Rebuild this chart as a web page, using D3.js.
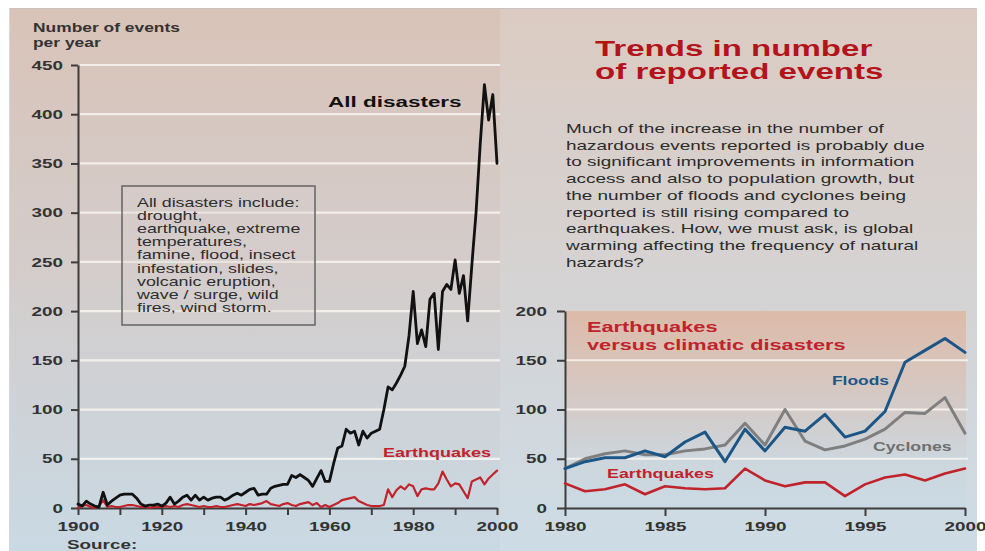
<!DOCTYPE html>
<html>
<head>
<meta charset="utf-8">
<script src="https://cdn.jsdelivr.net/npm/d3@7"></script>
<style>
  html, body { margin: 0; padding: 0; background: #ffffff; }
  svg { display: block; }
  text { font-family: "Liberation Sans", Arial, Helvetica, sans-serif; }
</style>
</head>
<body>
<svg id="chart" width="985" height="551"></svg>
<script>
// ---------------- DATA ----------------
const longStartYear = 1900;
const allDisasters = [
  4, 2, 7, 4, 2, 1, 16, 3, 7, 10,          // 1900-1909
  13, 14, 14, 14, 10, 4, 2, 3, 3, 4,       // 1910-1919
  2, 5, 11, 4, 7, 11, 13, 8, 13, 8,        // 1920-1929
  11, 8, 10, 11, 11, 8, 10, 13, 15, 13,    // 1930-1939
  16, 19, 20, 13, 14, 14, 20, 22, 23, 24,  // 1940-1949
  24, 33, 31, 34, 31, 28, 22, 30, 38, 27,  // 1950-1959
  27, 45, 61, 63, 80, 76, 78, 64, 78, 71,  // 1960-1969
  76, 78, 80, 100, 123, 120, 127, 135, 144, 175, // 1970-1979
  220, 167, 181, 164, 212, 218, 161, 220, 227, 222, // 1980-1989
  252, 218, 236, 190, 247, 300, 370, 430, 394, 420, // 1990-1999
  350                                       // 2000
];
const quakesLong = [
  0, 2, 3, 1, 0, 2, 8, 1, 2, 1,
  1, 2, 3, 3, 2, 1, 1, 0, 1, 1,
  1, 2, 1, 2, 1, 3, 4, 3, 2, 1,
  2, 1, 1, 2, 1, 1, 2, 3, 4, 3,
  2, 4, 3, 4, 5, 7, 4, 3, 2, 4,
  5, 3, 2, 4, 5, 6, 3, 5, 1, 3,
  1, 3, 5, 8, 9, 10, 11, 7, 5, 3,
  2, 2, 2, 3, 19, 11, 18, 22, 19, 24,
  22, 12, 19, 20, 19, 19, 25, 37, 29, 22,
  25, 24, 17, 10, 27, 29, 31, 24, 30, 34,
  38
];
const shortStartYear = 1980;
const floods    = [40, 47, 51, 51, 58, 52, 67, 77, 47, 80, 58, 82, 78, 95, 72, 78, 98, 148, 160, 172, 158];
const cyclones  = [40, 50, 55, 58, 54, 54, 58, 60, 64, 86, 64, 100, 68, 59, 63, 70, 80, 97, 96, 112, 76];
const quakesShort = [25, 17, 19, 24, 14, 22, 20, 19, 20, 40, 28, 22, 26, 26, 12, 24, 31, 34, 28, 35, 40];

const leftYTicks  = [0, 50, 100, 150, 200, 250, 300, 350, 400, 450];
const leftXTicks  = [1900, 1910, 1920, 1930, 1940, 1950, 1960, 1970, 1980, 1990, 2000];
const leftXLabels = [1900, 1920, 1940, 1960, 1980, 2000];
const rightYTicks = [0, 50, 100, 150, 200];
const rightXTicks = [1980, 1985, 1990, 1995, 2000];

const boxLines = [
  "All disasters include:", "drought,", "earthquake, extreme", "temperatures,",
  "famine, flood, insect", "infestation, slides,", "volcanic eruption,",
  "wave / surge, wild", "fires, wind storm."
];
const titleLines = ["Trends in number", "of reported events"];
const paraLines = [
  "Much of the increase in the number of",
  "hazardous events reported is probably due",
  "to significant improvements in information",
  "access and also to population growth, but",
  "the number of floods and cyclones being",
  "reported is still rising compared to",
  "earthquakes. How, we must ask, is global",
  "warming affecting the frequency of natural",
  "hazards?"
];

// ---------------- DRAWING ----------------
const SX = 1.45;
const svg = d3.select("#chart");
const defs = svg.append("defs");

function grad(id, stops) {
  const g = defs.append("linearGradient").attr("id", id)
    .attr("x1", 0).attr("y1", 0).attr("x2", 0).attr("y2", 1);
  stops.forEach(s => g.append("stop").attr("offset", s[0]).attr("stop-color", s[1]));
}
grad("gLeft",  [[0, "#d9c3b8"], [0.5, "#d3cdcc"], [1, "#c9d9e4"]]);
grad("gRight", [[0, "#dbcbc2"], [0.5, "#d5d3d3"], [1, "#cddce6"]]);
grad("gPlotR", [[0, "#dcbba9"], [0.25, "#d9c3b8"], [0.5, "#d3cbc9"], [0.75, "#cdd6dc"], [1, "#cadae4"]]);

svg.append("rect").attr("x", 9).attr("y", 8).attr("width", 492).attr("height", 545).attr("fill", "url(#gLeft)");
svg.append("rect").attr("x", 500).attr("y", 8).attr("width", 477).attr("height", 545).attr("fill", "url(#gRight)");
svg.append("line").attr("x1", 9).attr("x2", 977).attr("y1", 8.5).attr("y2", 8.5).attr("stroke", "#c9c2bf").attr("stroke-width", 1);
svg.append("line").attr("x1", 9.5).attr("x2", 9.5).attr("y1", 8).attr("y2", 551).attr("stroke", "#d8d8d8").attr("stroke-width", 1);

function addText(parent, x, y, str, o) {
  return parent.append("text")
    .attr("transform", `translate(${x},${y}) scale(${o.sx || SX},1)`)
    .attr("text-anchor", o.anchor || "start")
    .style("font-size", o.size + "px")
    .style("font-weight", o.weight || "normal")
    .style("fill", o.fill || "#2b2b2b")
    .text(str);
}

// Left chart scales
const xL = d3.scaleLinear().domain([1900, 2000]).range([78, 497]);
const yL = d3.scaleLinear().domain([0, 450]).range([508, 65]);
// Right chart scales
const xR = d3.scaleLinear().domain([1980, 2000]).range([565, 965]);
const yR = d3.scaleLinear().domain([0, 200]).range([508, 311]);

// Right plot background
svg.append("rect").attr("x", xR(1980) + 1).attr("y", yR(200))
  .attr("width", xR(2000) - xR(1980)).attr("height", yR(0) - yR(200))
  .attr("fill", "url(#gPlotR)");

// Gridlines
svg.append("g").selectAll("line").data(leftYTicks.filter(d => d > 0)).join("line")
  .attr("x1", 80).attr("x2", 500).attr("y1", d => yL(d)).attr("y2", d => yL(d))
  .attr("stroke", "#f7f3ee").attr("stroke-width", 2.2).attr("opacity", 0.9);
svg.append("g").selectAll("line").data(rightYTicks.filter(d => d > 0 && d < 200)).join("line")
  .attr("x1", 566).attr("x2", 968).attr("y1", d => yR(d)).attr("y2", d => yR(d))
  .attr("stroke", "#f7f3ee").attr("stroke-width", 2.2).attr("opacity", 0.9);

// Axes helper
function styleAxis(g, textX, textY, isY) {
  g.selectAll(".domain").attr("stroke", "#3d3d3d").attr("stroke-width", 2);
  g.selectAll(".tick line").attr("stroke", "#3d3d3d").attr("stroke-width", 2);
  const t = g.selectAll(".tick text")
    .style("font-size", "13px").style("font-weight", "bold").style("fill", "#333")
    .style("font-family", "'Liberation Sans', Arial, sans-serif")
    .attr("transform", `scale(${SX},1)`);
  if (isY) t.attr("x", textX / SX);
  else t.attr("y", textY).attr("dy", 0);
}

const gLY = svg.append("g").attr("transform", `translate(${xL(1900)},0)`)
  .call(d3.axisLeft(yL).tickValues(leftYTicks).tickSize(7).tickSizeOuter(0).tickFormat(d3.format("d")));
styleAxis(gLY, -15, 0, true);
const gLX = svg.append("g").attr("transform", `translate(0,${yL(0)})`)
  .call(d3.axisBottom(xL).tickValues(leftXTicks).tickSize(7).tickSizeOuter(0)
    .tickFormat(d => leftXLabels.includes(d) ? String(d) : ""));
styleAxis(gLX, 0, 23, false);

const gRY = svg.append("g").attr("transform", `translate(${xR(1980)},0)`)
  .call(d3.axisLeft(yR).tickValues(rightYTicks).tickSize(8).tickSizeOuter(0).tickFormat(d3.format("d")));
styleAxis(gRY, -18, 0, true);
const gRX = svg.append("g").attr("transform", `translate(0,${yR(0)})`)
  .call(d3.axisBottom(xR).tickValues(rightXTicks).tickSize(8).tickSizeOuter(0).tickFormat(d3.format("d")));
styleAxis(gRX, 0, 23, false);

// Lines
function drawLine(values, start, x, y, color, width) {
  const line = d3.line().x((d, i) => x(start + i)).y(d => y(d)).curve(d3.curveLinear);
  svg.append("path").datum(values).attr("d", line)
    .attr("fill", "none").attr("stroke", color).attr("stroke-width", width)
    .attr("stroke-linejoin", "round").attr("stroke-linecap", "round");
}
drawLine(quakesLong, longStartYear, xL, yL, "#c0232c", 2.2);
drawLine(allDisasters, longStartYear, xL, yL, "#111111", 2.8);

drawLine(cyclones, shortStartYear, xR, yR, "#7f7f7f", 3);
drawLine(floods, shortStartYear, xR, yR, "#1b5687", 3);
drawLine(quakesShort, shortStartYear, xR, yR, "#c0232c", 2.6);

// Texts: left chart
addText(svg, 33, 32, "Number of events", {size: 12, weight: "bold", fill: "#333"});
addText(svg, 33, 47, "per year", {size: 12, weight: "bold", fill: "#333"});
addText(svg, 328, 107, "All disasters", {size: 15.5, weight: "bold", fill: "#111"});
addText(svg, 383, 457, "Earthquakes", {size: 12.4, weight: "bold", fill: "#c0232c"});
addText(svg, 67, 549, "Source:", {size: 13, weight: "bold", fill: "#333"});

// Box
svg.append("rect").attr("x", 122).attr("y", 186).attr("width", 193).attr("height", 139)
  .attr("fill", "#d6cfcd").attr("fill-opacity", 0.35)
  .attr("stroke", "#6b6b6b").attr("stroke-width", 1.6);
boxLines.forEach((s, i) => addText(svg, 137, 207 + i * 13.1, s, {size: 12.3, fill: "#2e2e2e"}));

// Title + paragraph
titleLines.forEach((s, i) => addText(svg, 595, 56 + i * 23, s, {size: 22.5, weight: "bold", fill: "#b3141c", sx: 1.47}));
paraLines.forEach((s, i) => addText(svg, 566, 133 + i * 16.7, s, {size: 12.8, fill: "#2b2b2b", sx: 1.48}));

// Right chart labels
addText(svg, 587, 332, "Earthquakes", {size: 15, weight: "bold", fill: "#c0232c"});
addText(svg, 587, 350, "versus climatic disasters", {size: 15, weight: "bold", fill: "#c0232c"});
addText(svg, 832, 385, "Floods", {size: 12, weight: "bold", fill: "#1b5687"});
addText(svg, 873, 451, "Cyclones", {size: 12.2, weight: "bold", fill: "#6f6f6f"});
addText(svg, 607, 478, "Earthquakes", {size: 12.3, weight: "bold", fill: "#c0232c"});
</script>
</body>
</html>
